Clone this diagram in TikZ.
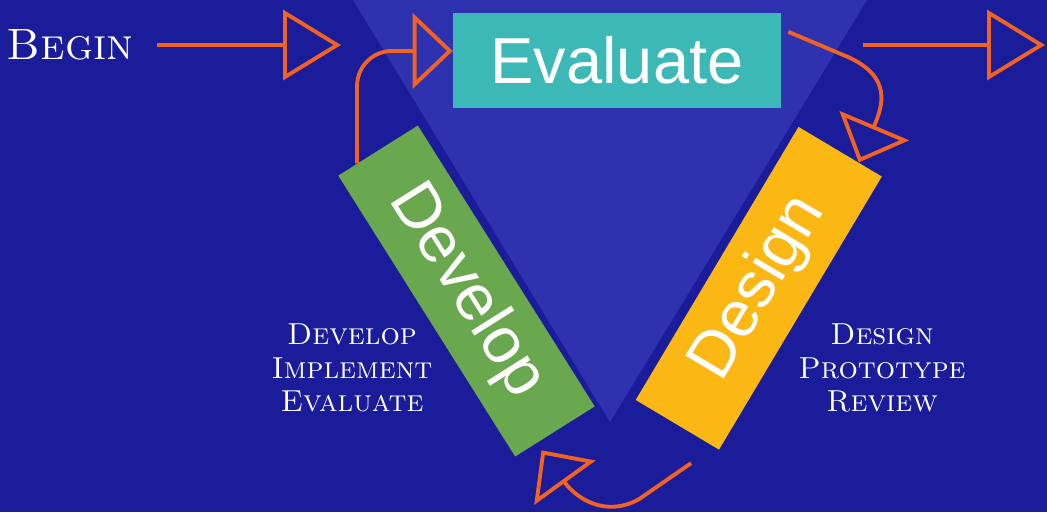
\documentclass[tikz,border=0pt]{standalone}
\usepackage{fontspec}
\newfontfamily\boxfont{Liberation Sans}
\usepackage{tikz}
\usetikzlibrary{arrows.meta, calc}
\definecolor{bgblue}{HTML}{1B1C9A}
\definecolor{triblue}{HTML}{2E32AE}
\definecolor{tealbox}{HTML}{3CB8B6}
\definecolor{greenbox}{HTML}{6AA84F}
\definecolor{yellowbox}{HTML}{FBB714}
\definecolor{arroworange}{HTML}{F26322}
\tikzstyle{phase} = [rectangle, text centered, text=white, inner sep=0pt, font=\boxfont\fontsize{37}{40}\selectfont]
\tikzstyle{note} = [align=center, text=white, font=\fontsize{17.3}{19}\selectfont\scshape]
\tikzstyle{bigarrow} = [draw=arroworange, line width=2.2pt, -{Triangle[open, length=1.16cm, width=1.4cm]}]
\tikzstyle{arrow} = [draw=arroworange, line width=2.2pt, -{Triangle[open, length=0.8cm, width=1.5cm]}]

\begin{document}
\begin{tikzpicture}[x=0.02cm, y=-0.02cm]
        \fill[bgblue] (0,0) rectangle (1047,512);
        \useasboundingbox (0,0) rectangle (1047,512);
        \fill[triblue] (353,0) -- (867,0) -- (610,422) -- cycle;
        \node (evaluate) [phase, fill=tealbox, minimum width=6.56cm, minimum height=1.9cm] at (617,60.5) {Evaluate};
        \node (develop) [phase, fill=greenbox, rotate=-57.8, minimum width=6.64cm, minimum height=1.88cm] at (466.5,291) {Develop};
        \node (design) [phase, fill=yellowbox, rotate=59.2, minimum width=6.36cm, minimum height=1.94cm] at (758.75,288.25) {Design};
        \node (begin) [note, font=\fontsize{25}{28}\selectfont\scshape, inner xsep=0.46cm] at (70,45) {Begin};
        \node (devnote) [note] at (352,368) {Develop\\Implement\\Evaluate};
        \node (designnote) [note] at (882,368) {Design\\Prototype\\Review};
        \coordinate (entry) at (341,45);
        \coordinate (exitstart) at (863,45);
        \coordinate (exit) at (1045,45);
        \draw [bigarrow] (begin) -- (entry);
        \draw [bigarrow] (exitstart) -- (exit);
        \draw [arrow, rounded corners=0.7cm] ($(develop.south west)!0.24!(develop.north west)$) |- ($(evaluate.north west)!0.4!(evaluate.south west)$);
        \draw [arrow] ([xshift=4pt]$(evaluate.north east)!0.2!(evaluate.south east)$) -- (848,57) .. controls (892,77) and (883,105) .. ($(design.north east)!0.72!(design.south east)$);
        \draw [arrow] ($(design.south west)+(-28,13)$) -- ++(-52,36) .. controls (605,518) and (576,498) .. ($(develop.south east)!0.33!(develop.north east)+(0,10)$);
    \end{tikzpicture}
\end{document}
